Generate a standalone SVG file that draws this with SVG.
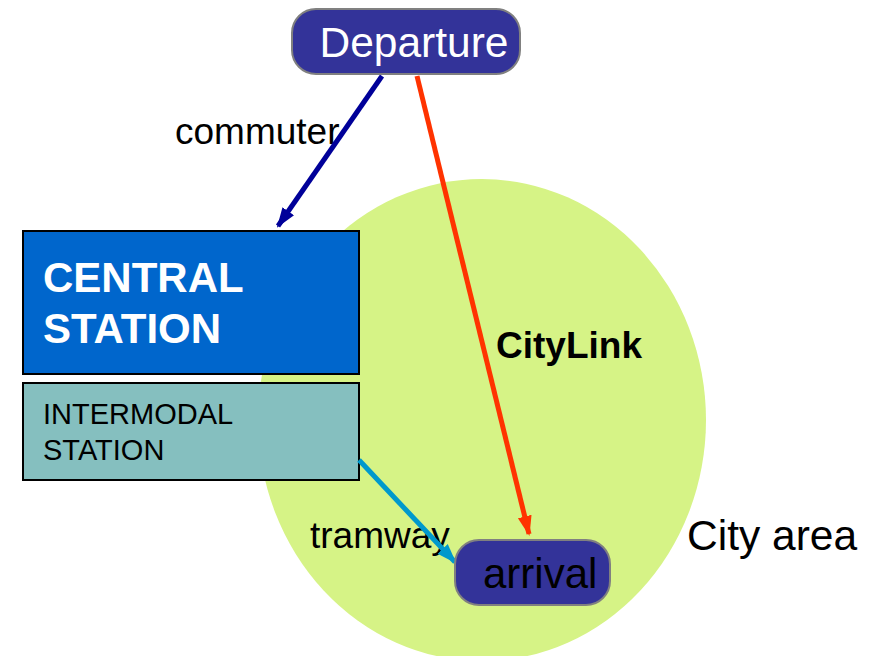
<svg xmlns="http://www.w3.org/2000/svg" width="872" height="656" viewBox="0 0 872 656">
<style>
text{font-family:"Liberation Sans",Arial,sans-serif}
.lbl{font-size:37px;fill:#000}
.conn{fill:none;stroke-width:5}
</style>
<defs>
<marker id="ab" viewBox="0 0 10 10" refX="9" refY="5" markerWidth="4" markerHeight="4" orient="auto" markerUnits="strokeWidth"><path d="M0,1.5 L10,5 L0,8.5 z" fill="#000099"/></marker>
<marker id="ar" viewBox="0 0 10 10" refX="9" refY="5" markerWidth="4" markerHeight="4" orient="auto" markerUnits="strokeWidth"><path d="M0,1.5 L10,5 L0,8.5 z" fill="#FF3300"/></marker>
<marker id="at" viewBox="0 0 10 10" refX="9" refY="5" markerWidth="4" markerHeight="4" orient="auto" markerUnits="strokeWidth"><path d="M0,1.5 L10,5 L0,8.5 z" fill="#0099CC"/></marker>
</defs>
<rect width="872" height="656" fill="#fff"/>
<g id="city-area">
<ellipse cx="482" cy="420" rx="224" ry="241" fill="#D6F386"/>
<text x="687" y="550" style="font-size:42.5px">City area</text>
</g>
<g id="central-station">
<rect x="23" y="231" width="336" height="143" fill="#0066CC" stroke="#000" stroke-width="2"/>
<text x="43" y="292" style="font-size:42px;font-weight:bold;fill:#fff">CENTRAL</text>
<text x="43" y="343" style="font-size:42px;font-weight:bold;fill:#fff">STATION</text>
</g>
<g id="intermodal-station">
<rect x="23" y="383" width="336" height="97" fill="#85BFBF" stroke="#000" stroke-width="2"/>
<text x="43" y="424" style="font-size:29px;fill:#000">INTERMODAL</text>
<text x="43" y="460" style="font-size:29px;fill:#000">STATION</text>
</g>
<g id="connectors">
<text class="lbl" x="175" y="144">commuter</text>
<text class="lbl" x="496" y="358" style="font-weight:bold">CityLink</text>
<text class="lbl" x="310" y="548">tramway</text>
<line class="conn" x1="382" y1="76" x2="278" y2="226" stroke="#000099" marker-end="url(#ab)"/>
<line class="conn" x1="417" y1="76" x2="529" y2="534" stroke="#FF3300" marker-end="url(#ar)"/>
<line class="conn" x1="359" y1="460" x2="455" y2="562" stroke="#0099CC" marker-end="url(#at)"/>
</g>
<g id="departure">
<rect x="292" y="9" width="228" height="65" rx="24" fill="#333399" stroke="#808080" stroke-width="2"/>
<text x="414" y="57" text-anchor="middle" style="font-size:42.5px;fill:#fff">Departure</text>
</g>
<g id="arrival">
<rect x="455" y="540" width="155" height="65" rx="24" fill="#333399" stroke="#808080" stroke-width="2"/>
<text x="483" y="588" style="font-size:42px;fill:#000">arrival</text>
</g>
</svg>
